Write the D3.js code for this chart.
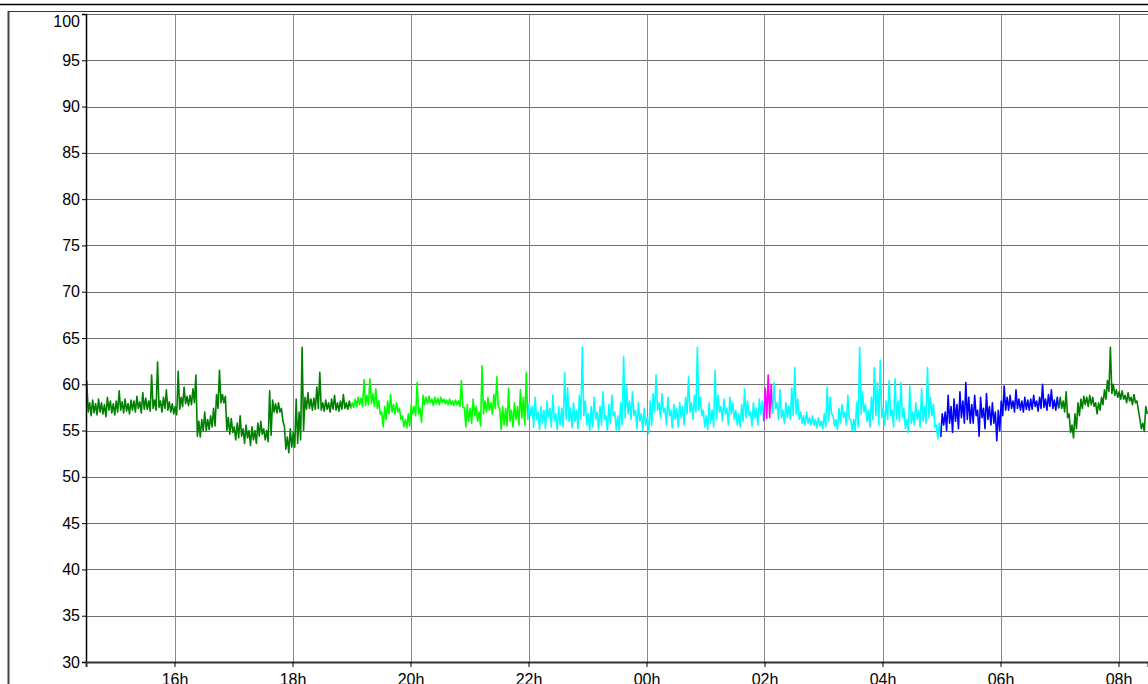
<!DOCTYPE html>
<html>
<head>
<meta charset="utf-8">
<script src="https://cdn.jsdelivr.net/npm/d3@7"></script>
<style>
  html, body { margin: 0; padding: 0; background: #fff; }
  svg { display: block; font-family: "Liberation Sans", Arial, sans-serif; }
</style>
</head>
<body>
<svg id="chart" width="1148" height="684"></svg>
<script>
// Sound level, highest and lowest reading in each 3-minute slot, 14:30 to 08:30 (dB)
const startTime = "2021-06-01 14:30";
const endTime = "2021-06-02 08:30";
const stepMinutes = 3;

const levelMax = [
  // 14:30
  60.4, 58.0, 58.3, 57.9, 58.4, 58.0, 57.8, 58.6, 58.2, 57.9,
  58.2, 59.3, 58.1, 58.4, 57.9, 58.3, 58.2, 58.7, 58.1, 59.1,
  // 15:30
  58.5, 58.2, 61.0, 58.3, 62.4, 58.2, 58.6, 59.4, 58.1, 57.9,
  57.6, 61.4, 58.6, 59.7, 58.7, 58.8, 59.5, 61.0, 56.0, 56.2,
  // 16:30
  57.0, 56.2, 56.6, 57.4, 58.9, 61.5, 58.9, 58.7, 56.4, 56.3,
  55.4, 55.8, 56.6, 55.2, 55.6, 55.0, 55.4, 55.0, 55.8, 56.0,
  // 17:30
  55.2, 55.0, 59.3, 58.3, 57.9, 58.0, 57.4, 55.5, 54.3, 55.2,
  54.8, 58.4, 57.0, 64.0, 58.6, 59.1, 58.4, 58.5, 59.7, 61.3,
  // 18:30
  58.0, 58.3, 58.0, 58.4, 58.8, 58.0, 58.2, 58.9, 58.0, 58.2,
  58.0, 58.4, 58.6, 58.5, 60.5, 58.8, 60.6, 59.0, 59.5, 58.2,
  // 19:30
  57.0, 57.6, 58.2, 58.9, 57.8, 58.0, 57.4, 56.6, 56.2, 56.8,
  57.8, 57.6, 60.2, 57.4, 58.8, 58.6, 58.7, 58.4, 58.6, 58.5,
  // 20:30
  58.6, 58.4, 58.3, 58.4, 58.2, 58.3, 58.2, 60.4, 57.5, 57.8,
  57.4, 58.4, 57.6, 57.0, 62.0, 58.2, 58.6, 58.0, 58.9, 60.8,
  // 21:30
  57.4, 57.6, 57.4, 59.6, 57.2, 58.0, 57.6, 59.4, 58.6, 61.3,
  58.0, 57.6, 58.6, 57.0, 57.6, 57.2, 58.2, 57.4, 58.8, 56.8,
  // 22:30
  57.6, 57.4, 61.3, 59.6, 57.4, 58.0, 57.2, 58.8, 64.0, 58.2,
  56.8, 57.6, 58.6, 57.0, 57.6, 59.2, 56.6, 57.8, 58.8, 57.0,
  // 23:30
  56.6, 58.0, 63.0, 59.8, 58.2, 59.2, 57.2, 58.0, 56.8, 57.4,
  56.4, 58.2, 59.0, 61.0, 58.0, 59.0, 57.4, 58.6, 57.2, 57.8,
  // 00:30
  57.4, 58.0, 57.6, 58.6, 60.8, 58.0, 58.8, 64.0, 58.6, 57.2,
  56.6, 58.0, 57.2, 61.5, 58.8, 57.6, 58.4, 57.4, 58.6, 58.0,
  // 01:30
  57.2, 56.8, 57.8, 59.5, 58.2, 57.0, 58.0, 57.4, 58.4, 58.2,
  59.6, 61.0, 60.0, 60.2, 58.0, 59.4, 57.2, 58.0, 57.6, 59.6,
  // 02:30
  61.8, 58.4, 57.0, 56.6, 57.0, 56.4, 56.6, 56.2, 56.4, 56.0,
  56.8, 59.7, 58.6, 56.6, 56.2, 57.4, 57.8, 57.0, 58.8, 56.2,
  // 03:30
  56.2, 58.0, 64.0, 59.2, 57.8, 57.2, 58.6, 61.8, 60.2, 62.6,
  57.4, 58.2, 60.4, 57.2, 60.6, 58.2, 60.2, 57.4, 56.2, 59.8,
  // 04:30
  57.0, 58.0, 57.2, 59.5, 57.6, 61.8, 58.6, 57.8, 55.6, 55.8,
  56.8, 57.0, 58.8, 57.6, 58.4, 57.8, 59.2, 58.2, 60.2, 58.6,
  // 05:30
  57.8, 58.8, 57.2, 58.6, 57.4, 59.0, 57.6, 58.0, 57.0, 57.2,
  58.2, 59.8, 58.6, 58.8, 58.2, 59.4, 58.4, 58.2, 58.6, 58.3,
  // 06:30
  58.4, 58.8, 58.2, 58.6, 60.0, 58.4, 58.9, 59.4, 58.3, 58.6,
  58.6, 58.2, 59.2, 56.8, 55.6, 56.8, 58.0, 58.4, 58.7, 58.6,
  // 07:30
  58.8, 58.6, 58.0, 58.0, 58.6, 59.4, 60.4, 64.0, 60.0, 59.4,
  59.2, 59.3, 58.8, 59.1, 58.6, 58.9, 58.2, 56.2, 55.8, 57.6
];

const levelMin = [
  // 14:30
  57.0, 56.6, 56.9, 56.7, 57.0, 56.8, 56.5, 57.2, 56.9, 56.7,
  57.0, 57.2, 56.9, 57.1, 56.8, 57.2, 57.0, 57.4, 56.9, 57.3,
  // 15:30
  57.3, 57.1, 57.4, 57.2, 57.5, 57.0, 57.4, 57.2, 57.0, 56.8,
  56.7, 57.3, 57.6, 57.9, 57.7, 57.8, 58.0, 54.4, 54.3, 55.0,
  // 16:30
  55.0, 55.1, 55.4, 55.5, 57.4, 58.0, 58.0, 55.0, 54.6, 54.8,
  54.0, 54.2, 54.4, 53.6, 54.2, 53.4, 54.0, 53.6, 54.4, 54.6,
  // 17:30
  54.0, 53.8, 54.5, 57.0, 56.9, 57.0, 56.0, 53.0, 52.6, 53.2,
  53.2, 53.6, 54.0, 55.0, 57.3, 57.4, 57.2, 57.3, 57.4, 57.2,
  // 18:30
  57.1, 57.3, 57.0, 57.3, 57.2, 57.1, 57.3, 57.4, 57.3, 57.4,
  57.5, 57.6, 57.8, 57.6, 57.7, 57.8, 57.9, 57.6, 57.4, 56.8,
  // 19:30
  55.4, 56.2, 56.8, 57.0, 56.8, 57.0, 56.2, 55.4, 55.3, 55.5,
  56.8, 56.6, 56.8, 55.9, 57.8, 57.9, 58.0, 57.7, 57.9, 57.8,
  // 20:30
  58.0, 57.9, 57.8, 57.8, 57.7, 57.8, 57.6, 57.5, 55.4, 56.0,
  55.8, 56.6, 56.0, 55.5, 56.8, 57.0, 57.2, 56.8, 57.4, 57.6,
  // 21:30
  55.1, 55.6, 55.5, 56.0, 55.4, 56.2, 55.6, 56.4, 55.6, 56.2,
  56.6, 55.4, 56.2, 55.1, 55.8, 55.2, 56.4, 55.4, 56.0, 55.1,
  // 22:30
  55.6, 55.4, 56.2, 56.0, 55.3, 56.0, 55.2, 56.2, 56.6, 55.6,
  55.0, 55.4, 56.2, 55.1, 55.6, 56.2, 55.0, 55.8, 56.6, 55.1,
  // 23:30
  55.0, 55.6, 56.4, 56.8, 56.2, 56.6, 55.2, 56.0, 55.0, 55.6,
  54.7, 55.6, 57.0, 57.2, 56.4, 57.0, 55.6, 56.6, 55.3, 56.2,
  // 00:30
  55.4, 56.4, 55.6, 56.8, 57.0, 56.2, 57.0, 57.2, 56.6, 55.4,
  55.1, 55.8, 55.4, 56.2, 57.0, 56.0, 56.8, 55.6, 56.8, 56.2,
  // 01:30
  55.6, 55.4, 56.0, 56.4, 56.6, 55.5, 56.4, 55.6, 56.8, 56.0,
  56.3, 56.4, 56.8, 57.4, 56.2, 56.4, 55.8, 56.4, 56.2, 56.6,
  // 02:30
  56.8, 56.2, 55.8, 55.6, 55.8, 55.6, 55.6, 55.3, 55.5, 55.2,
  55.4, 56.0, 56.8, 55.5, 55.1, 55.8, 56.4, 55.6, 56.2, 55.0,
  // 03:30
  55.0, 55.4, 56.8, 57.0, 56.0, 55.4, 56.2, 56.6, 55.6, 56.4,
  55.6, 56.2, 56.6, 55.4, 56.2, 56.0, 56.4, 55.2, 54.8, 55.8,
  // 04:30
  55.6, 56.2, 55.4, 56.0, 55.8, 56.4, 56.6, 55.4, 54.1, 54.3,
  55.6, 55.0, 55.8, 54.8, 56.0, 55.2, 56.4, 55.8, 56.2, 55.8,
  // 05:30
  55.8, 56.6, 54.4, 56.4, 55.2, 56.2, 55.6, 55.8, 53.9, 55.0,
  56.6, 57.2, 57.2, 57.4, 57.0, 57.4, 57.2, 57.0, 57.3, 57.2,
  // 06:30
  57.3, 57.6, 57.1, 57.4, 57.5, 57.2, 57.6, 57.4, 57.2, 57.4,
  57.4, 57.0, 56.4, 54.8, 54.2, 55.2, 56.6, 57.4, 57.8, 57.6,
  // 07:30
  57.8, 57.6, 56.8, 57.2, 57.8, 58.4, 59.2, 59.0, 58.8, 58.6,
  58.4, 58.4, 58.0, 58.2, 57.8, 58.0, 57.2, 55.2, 54.9, 56.8
];

// Reporting periods and their trace colours
const periodStarts = ["2021-06-01 14:30", "2021-06-01 19:00", "2021-06-01 22:00", "2021-06-02 02:00", "2021-06-02 02:09", "2021-06-02 05:00", "2021-06-02 07:00"];
const periodColors = ["#008000", "#00ff00", "#00ffff", "#ff00ff", "#00ffff", "#0000ff", "#008000"];

const yTicks = [30, 35, 40, 45, 50, 55, 60, 65, 70, 75, 80, 85, 90, 95, 100];

const parse = d3.timeParse("%Y-%m-%d %H:%M");
const t0 = parse(startTime);
const t1 = parse(endTime);

// Each slot becomes two vertices: its peak, then its trough
const points = [];
levelMax.forEach((hi, i) => {
  const slot = d3.timeMinute.offset(t0, i * stepMinutes);
  points.push({ t: new Date(+slot + 0.75 * 60000), v: hi, slot });
  points.push({ t: new Date(+slot + 2.25 * 60000), v: levelMin[i], slot });
});

const svg = d3.select("#chart");
const W = 1148, H = 684;
const plot = { left: 86, top: 14, right: 1148, bottom: 662 };

// Outer frame lines
svg.append("line").attr("x1", 0).attr("x2", W).attr("y1", 4.5).attr("y2", 4.5)
  .attr("stroke", "#000").attr("stroke-width", 1.5);
svg.append("line").attr("x1", 8).attr("x2", W).attr("y1", 11.5).attr("y2", 11.5)
  .attr("stroke", "#333").attr("stroke-width", 1);
svg.append("line").attr("x1", 8.5).attr("x2", 8.5).attr("y1", 11).attr("y2", H)
  .attr("stroke", "#444").attr("stroke-width", 2);

const x = d3.scaleTime().domain([t0, t1]).range([plot.left, plot.right]);
const y = d3.scaleLinear().domain([30, 100]).range([plot.bottom, plot.top]);

const xTicks = d3.timeHour.every(2).range(d3.timeHour.ceil(t0), t1);

// Grid
const grid = svg.append("g");
grid.selectAll("line.h").data(yTicks.filter(d => d > 30 && d < 100)).join("line")
  .attr("x1", plot.left).attr("x2", plot.right)
  .attr("y1", d => Math.round(y(d)) + 0.5).attr("y2", d => Math.round(y(d)) + 0.5)
  .attr("stroke", "#707070").attr("stroke-width", 1);
grid.selectAll("line.v").data(xTicks).join("line")
  .attr("x1", d => Math.round(x(d)) + 0.5).attr("x2", d => Math.round(x(d)) + 0.5)
  .attr("y1", plot.top).attr("y2", plot.bottom)
  .attr("stroke", "#8a8a8a").attr("stroke-width", 1);
// top border of plot
svg.append("line").attr("x1", plot.left).attr("x2", plot.right).attr("y1", plot.top + 0.5).attr("y2", plot.top + 0.5)
  .attr("stroke", "#666").attr("stroke-width", 1);

// Traces, one path per period
const line = d3.line().x(d => x(d.t)).y(d => y(d.v));
const bounds = periodStarts.map(parse).concat([t1]);
periodColors.forEach((c, k) => {
  const a = bounds[k], b = bounds[k + 1];
  const idx = points.map((p, i) => (p.slot >= a && p.slot < b) ? i : -1).filter(i => i >= 0);
  if (!idx.length) return;
  const from = Math.max(0, idx[0] - 1);
  const seg = points.slice(from, idx[idx.length - 1] + 1);
  svg.append("path").datum(seg)
    .attr("fill", "none").attr("stroke", c).attr("stroke-width", 1.6)
    .attr("stroke-linejoin", "round").attr("d", line);
});

// Axes
const yAxis = svg.append("g").attr("transform", `translate(${plot.left},0)`)
  .call(d3.axisLeft(y).tickValues(yTicks).tickSize(4).tickPadding(2).tickFormat(d3.format("d")));
yAxis.select(".domain").attr("stroke", "#000").attr("stroke-width", 1.5);
yAxis.selectAll(".tick line").attr("stroke", "#000");
yAxis.selectAll("text").attr("font-size", 16).attr("fill", "#000")
  .attr("font-family", "'Liberation Sans', Arial, sans-serif");
// keep the top label inside the frame
yAxis.selectAll(".tick").filter(d => d === 100).select("text").attr("y", 7);

const xAxis = svg.append("g").attr("transform", `translate(0,${plot.bottom})`)
  .call(d3.axisBottom(x).tickValues(xTicks).tickSize(5).tickPadding(7).tickFormat(d3.timeFormat("%Hh")));
xAxis.select(".domain").attr("stroke", "#333").attr("stroke-width", 2);
xAxis.selectAll(".tick line").attr("stroke", "#000");
xAxis.selectAll("text").attr("font-size", 16).attr("fill", "#000")
  .attr("font-family", "'Liberation Sans', Arial, sans-serif");
</script>
</body>
</html>
